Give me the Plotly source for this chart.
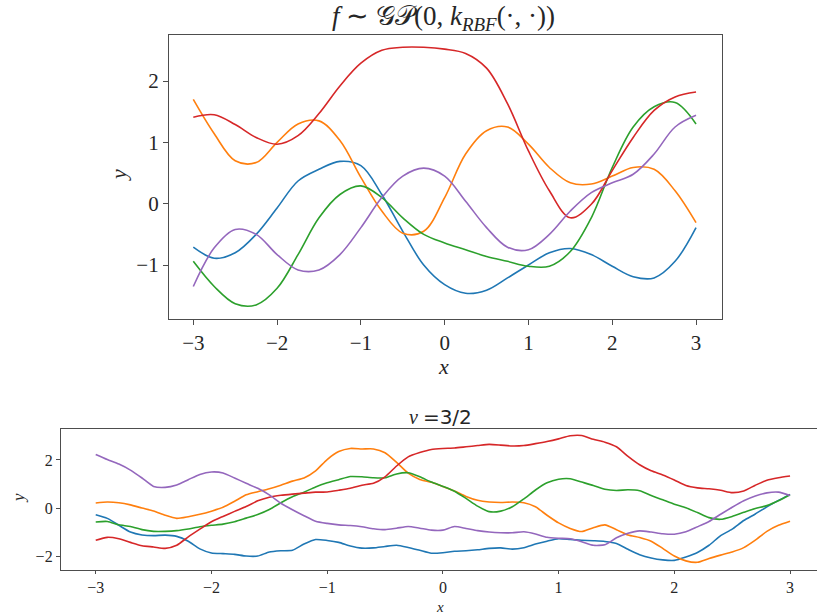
import plotly.graph_objects as go

# Tableau-10 colours used by both panels
COLORS = ["#1f77b4", "#ff7f0e", "#2ca02c", "#d62728", "#9467bd"]

# ---- Top panel: samples from a GP with an RBF kernel ----
x_rbf = [-3.0, -2.75, -2.5, -2.25, -2.0, -1.75, -1.5, -1.25, -1.0, -0.75, -0.5, -0.25,
         0.0, 0.25, 0.5, 0.75, 1.0, 1.25, 1.5, 1.75, 2.0, 2.25, 2.5, 2.75, 3.0]

rbf_blue = [-0.71, -0.89, -0.80, -0.50, -0.07, 0.37, 0.56, 0.69, 0.62, 0.15, -0.45, -1.00,
            -1.32, -1.46, -1.41, -1.21, -1.00, -0.80, -0.73, -0.83, -1.02, -1.19, -1.21, -0.94, -0.39]
rbf_orange = [1.70, 1.14, 0.70, 0.67, 1.00, 1.30, 1.35, 1.03, 0.43, -0.12, -0.48, -0.45,
              0.10, 0.81, 1.19, 1.25, 0.97, 0.59, 0.34, 0.32, 0.45, 0.59, 0.56, 0.21, -0.31]
rbf_green = [-0.94, -1.35, -1.63, -1.65, -1.38, -0.83, -0.23, 0.15, 0.29, 0.10, -0.23, -0.50,
             -0.64, -0.75, -0.86, -0.94, -1.02, -1.02, -0.78, -0.23, 0.59, 1.25, 1.58, 1.65, 1.30]
rbf_red = [1.41, 1.45, 1.29, 1.08, 0.97, 1.11, 1.47, 1.92, 2.29, 2.50, 2.55, 2.55,
           2.52, 2.45, 2.21, 1.63, 0.86, 0.21, -0.23, -0.01, 0.54, 1.08, 1.52, 1.74, 1.82]
rbf_purple = [-1.35, -0.72, -0.42, -0.50, -0.83, -1.08, -1.08, -0.83, -0.39, 0.10, 0.45, 0.58,
              0.45, 0.04, -0.39, -0.71, -0.75, -0.50, -0.12, 0.18, 0.34, 0.48, 0.81, 1.25, 1.44]

# ---- Bottom panel: samples from a GP with a Matern(nu=3/2) kernel ----
x_matern = [round(-3.0 + 0.1 * i, 1) for i in range(61)]

mat_blue = [-0.28, -0.43, -0.72, -1.00, -1.12, -1.15, -1.13, -1.18, -1.38, -1.70,
            -1.87, -1.90, -1.93, -2.00, -2.00, -1.83, -1.78, -1.76, -1.50, -1.31,
            -1.35, -1.43, -1.58, -1.67, -1.66, -1.60, -1.55, -1.64, -1.76, -1.88,
            -1.86, -1.80, -1.78, -1.74, -1.68, -1.66, -1.71, -1.65, -1.50, -1.38,
            -1.28, -1.31, -1.34, -1.36, -1.39, -1.48, -1.72, -1.94, -2.08, -2.16,
            -2.18, -2.04, -1.85, -1.55, -1.15, -0.88, -0.52, -0.25, 0.05, 0.32, 0.57]
mat_orange = [0.21, 0.25, 0.22, 0.13, 0.00, -0.12, -0.30, -0.43, -0.36, -0.26,
              -0.13, 0.03, 0.28, 0.55, 0.68, 0.80, 0.95, 1.12, 1.25, 1.55,
              2.02, 2.35, 2.48, 2.46, 2.46, 2.30, 1.90, 1.45, 1.19, 1.07,
              0.90, 0.71, 0.48, 0.32, 0.25, 0.23, 0.25, 0.22, 0.05, -0.30,
              -0.62, -0.85, -0.98, -0.82, -0.70, -0.90, -1.12, -1.23, -1.38, -1.68,
              -2.00, -2.20, -2.26, -2.10, -1.96, -1.83, -1.65, -1.34, -0.97, -0.72, -0.55]
mat_green = [-0.58, -0.56, -0.70, -0.77, -0.90, -0.97, -0.97, -0.94, -0.87, -0.78,
             -0.72, -0.67, -0.57, -0.42, -0.27, -0.06, 0.22, 0.47, 0.66, 0.88,
             1.05, 1.18, 1.31, 1.30, 1.26, 1.26, 1.42, 1.47, 1.30, 1.08,
             0.90, 0.70, 0.40, 0.08, -0.15, -0.13, 0.05, 0.38, 0.75, 1.05,
             1.20, 1.22, 1.08, 0.94, 0.78, 0.73, 0.76, 0.72, 0.52, 0.34,
             0.16, 0.01, -0.19, -0.40, -0.47, -0.35, -0.18, -0.02, 0.10, 0.30, 0.55]
mat_red = [-1.34, -1.22, -1.28, -1.43, -1.57, -1.62, -1.68, -1.55, -1.20, -0.88,
           -0.57, -0.35, -0.14, 0.06, 0.30, 0.45, 0.53, 0.58, 0.62, 0.66,
           0.67, 0.74, 0.82, 0.95, 1.03, 1.30, 1.75, 2.13, 2.31, 2.44,
           2.48, 2.50, 2.55, 2.60, 2.65, 2.62, 2.58, 2.60, 2.68, 2.77,
           2.88, 3.01, 3.02, 2.86, 2.74, 2.55, 2.15, 1.80, 1.55, 1.38,
           1.17, 0.94, 0.84, 0.80, 0.74, 0.64, 0.71, 0.95, 1.16, 1.26, 1.33]
mat_purple = [2.23, 2.02, 1.83, 1.58, 1.25, 0.90, 0.86, 0.96, 1.18, 1.40,
              1.50, 1.46, 1.25, 1.03, 0.82, 0.55, 0.20, -0.07, -0.32, -0.55,
              -0.64, -0.70, -0.73, -0.78, -0.86, -0.90, -0.84, -0.77, -0.84, -0.92,
              -0.92, -0.77, -0.85, -0.94, -1.00, -1.03, -1.03, -0.99, -1.08, -1.22,
              -1.26, -1.28, -1.40, -1.55, -1.53, -1.24, -1.05, -0.95, -1.00, -1.07,
              -1.09, -0.99, -0.78, -0.56, -0.26, 0.03, 0.30, 0.50, 0.63, 0.66, 0.52]

X_TICKS = [-3, -2, -1, 0, 1, 2, 3]
TOP_Y_TICKS = [-1, 0, 1, 2]
BOTTOM_Y_TICKS = [-2, 0, 2]

W, H = 817, 615
FONT = "Liberation Serif"
SANS = "DejaVu Sans"
FRAME = "#4d4d4d"
TEXT = "#262626"

fig = go.Figure()

for ys, c in zip([rbf_blue, rbf_orange, rbf_green, rbf_red, rbf_purple], COLORS):
    fig.add_trace(go.Scatter(x=x_rbf, y=ys, mode="lines", xaxis="x", yaxis="y",
                             line=dict(color=c, width=1.6, shape="spline", smoothing=1.0),
                             showlegend=False, hoverinfo="skip"))

for ys, c in zip([mat_blue, mat_orange, mat_green, mat_red, mat_purple], COLORS):
    fig.add_trace(go.Scatter(x=x_matern, y=ys, mode="lines", xaxis="x2", yaxis="y2",
                             line=dict(color=c, width=1.6, shape="spline", smoothing=0.6),
                             showlegend=False, hoverinfo="skip"))


def px_x(p):
    return p / W


def px_y(p):
    return 1 - p / H


def axis_style(size, ticklen=5):
    return dict(showgrid=False, zeroline=False, showline=True, linecolor=FRAME,
                linewidth=1.3, ticks="outside", ticklen=ticklen, tickwidth=1.2,
                tickcolor=FRAME, tickfont=dict(family=FONT, size=size, color=TEXT))


fig.update_layout(
    width=W, height=H,
    margin=dict(l=0, r=0, t=0, b=0),
    paper_bgcolor="white", plot_bgcolor="white",
    xaxis=dict(domain=[px_x(169), px_x(722)], range=[-3.29, 3.31], anchor="y",
               tickvals=X_TICKS, mirror=True, **axis_style(21)),
    yaxis=dict(domain=[px_y(319), px_y(35)], range=[-1.88, 2.75], anchor="x",
               tickvals=TOP_Y_TICKS, mirror=True, **axis_style(21)),
    xaxis2=dict(domain=[px_x(61), 1.0], range=[-3.3, 3.233], anchor="y2",
                tickvals=X_TICKS, mirror=True, **axis_style(16, ticklen=3)),
    yaxis2=dict(domain=[px_y(570), px_y(429)], range=[-2.58, 3.29], anchor="x2",
                tickvals=BOTTOM_Y_TICKS, mirror=False, **axis_style(16, ticklen=4)),
)


def label(x, y, text, size, angle=0, yanchor="middle"):
    fig.add_annotation(x=px_x(x), y=px_y(y), text=text, textangle=angle,
                       xref="paper", yref="paper", showarrow=False,
                       xanchor="center", yanchor=yanchor, borderpad=0,
                       font=dict(family=FONT, size=size, color=TEXT))


# Panel titles and axis labels
label(443, 36, "<i>f</i> ∼ 𝒢𝒫(0, <i>k</i><sub><i>RBF</i></sub>(·, ·))", 27, yanchor="bottom")
label(443, 366, "<i>x</i>", 22)
label(118, 175, "<i>y</i>", 22, angle=-90)
label(440, 417, "<i>ν</i> <span style=\"font-family:%s\">=3/2</span>" % SANS, 20)
label(440, 616, "<i>x</i>", 15, yanchor="bottom")
label(18, 498, "<i>y</i>", 17, angle=-90)

fig.write_html("out.html")
